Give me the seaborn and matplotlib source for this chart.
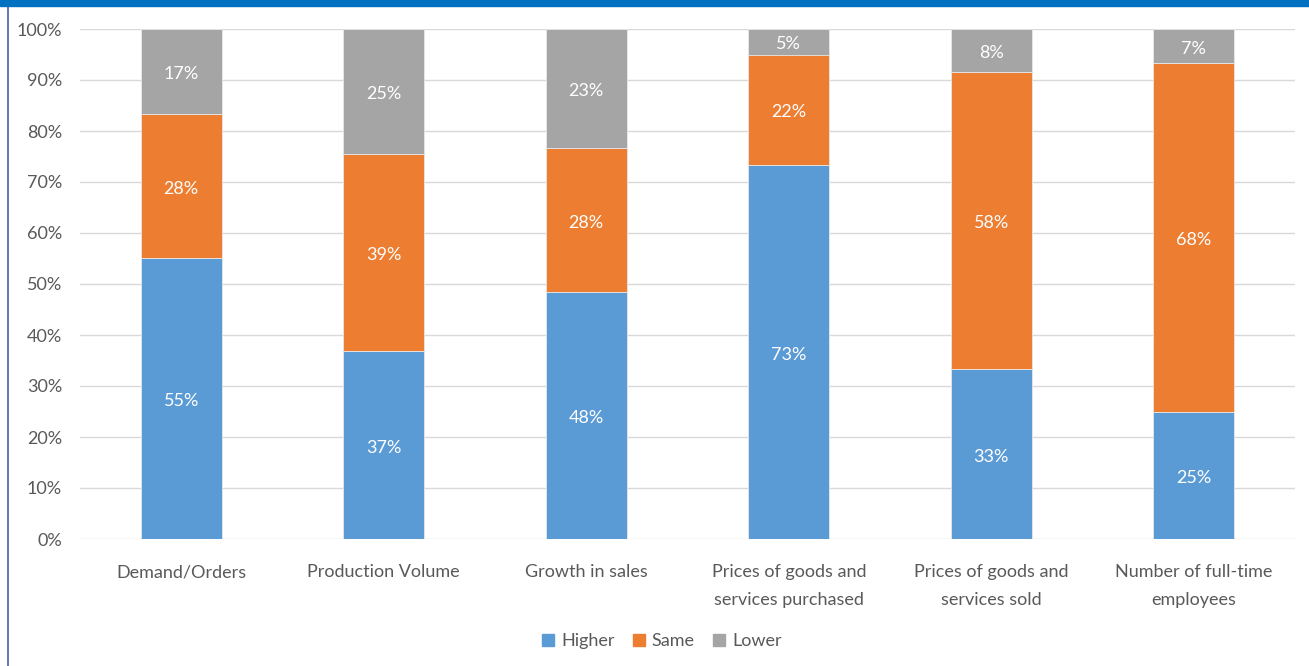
import matplotlib
matplotlib.use("Agg")
import matplotlib.pyplot as plt
import seaborn as sns
import numpy as np
from matplotlib.lines import Line2D
from matplotlib.patches import Rectangle

categories = ["Demand/Orders", "Production Volume", "Growth in sales",
              "Prices of goods and\nservices purchased",
              "Prices of goods and\nservices sold",
              "Number of full-time\nemployees"]
higher = [55.1, 36.8, 48.4, 73.3, 33.3, 25.0]
same = [28.2, 38.6, 28.3, 21.7, 58.3, 68.3]
lower = [16.7, 24.6, 23.3, 5.0, 8.4, 6.7]
series_names = ["Higher", "Same", "Lower"]
colors = ["#5B9BD5", "#ED7D31", "#A5A5A5"]
yticks = [0, 10, 20, 30, 40, 50, 60, 70, 80, 90, 100]

sns.set_theme(style="white")
plt.rcParams['font.family'] = ['Lato', 'DejaVu Sans']
text_color = "#595959"

W, H = 1309, 666
fig = plt.figure(figsize=(W / 100, H / 100), dpi=100)
ax = fig.add_axes([80 / W, 1 - 539 / H, (1295 - 80) / W, (539 - 29) / H])

bottom = np.zeros(len(categories))
for vals, name, col in zip([higher, same, lower], series_names, colors):
    sns.barplot(x=categories, y=vals, bottom=bottom, color=col, width=0.4,
                ax=ax, label=name, saturation=1, zorder=3,
                edgecolor="#E8E8E8", linewidth=0.6)
    bottom = bottom + np.array(vals)

# value labels
bottom = np.zeros(len(categories))
for vals in [higher, same, lower]:
    for i, v in enumerate(vals):
        ax.text(i, bottom[i] + v / 2 - 0.5, f"{round(v):.0f}%", ha="center", va="center",
                color="white", fontsize=13, zorder=4)
    bottom = bottom + np.array(vals)

ax.set_xlim(-0.5, len(categories) - 0.5)
ax.set_ylim(0, 100)
ax.set_yticks(yticks)
ax.set_yticklabels([f"{t}%" for t in yticks])
ax.yaxis.grid(True, color="#D9D9D9", linewidth=1, zorder=0)
for s in ax.spines.values():
    s.set_visible(False)
ax.tick_params(axis="both", length=0, colors=text_color, labelsize=13)
ax.tick_params(axis="y", pad=13)
ax.tick_params(axis="x", pad=18)
for lbl in ax.get_xticklabels():
    lbl.set_linespacing(1.95)
ax.set_xlabel("")
ax.set_ylabel("")

handles = [Rectangle((0, 0), 1, 1, color=c) for c in colors]
leg = ax.legend(handles, series_names, loc="center", bbox_to_anchor=(0.479, -0.2),
                ncol=3, frameon=False, fontsize=13, handlelength=0.65,
                handleheight=0.65, handletextpad=0.4, columnspacing=1.0)
for t in leg.get_texts():
    t.set_color(text_color)

# frame decorations
fig.add_artist(Rectangle((0, 1 - 6 / H), 1, 6 / H, transform=fig.transFigure,
                         color="#0070C0", zorder=10))
fig.add_artist(Line2D([7.5 / W, 7.5 / W], [0, 1 - 6 / H], transform=fig.transFigure,
                      color="#4A5FA8", linewidth=1.2))

fig.savefig("out.png", dpi=100)
